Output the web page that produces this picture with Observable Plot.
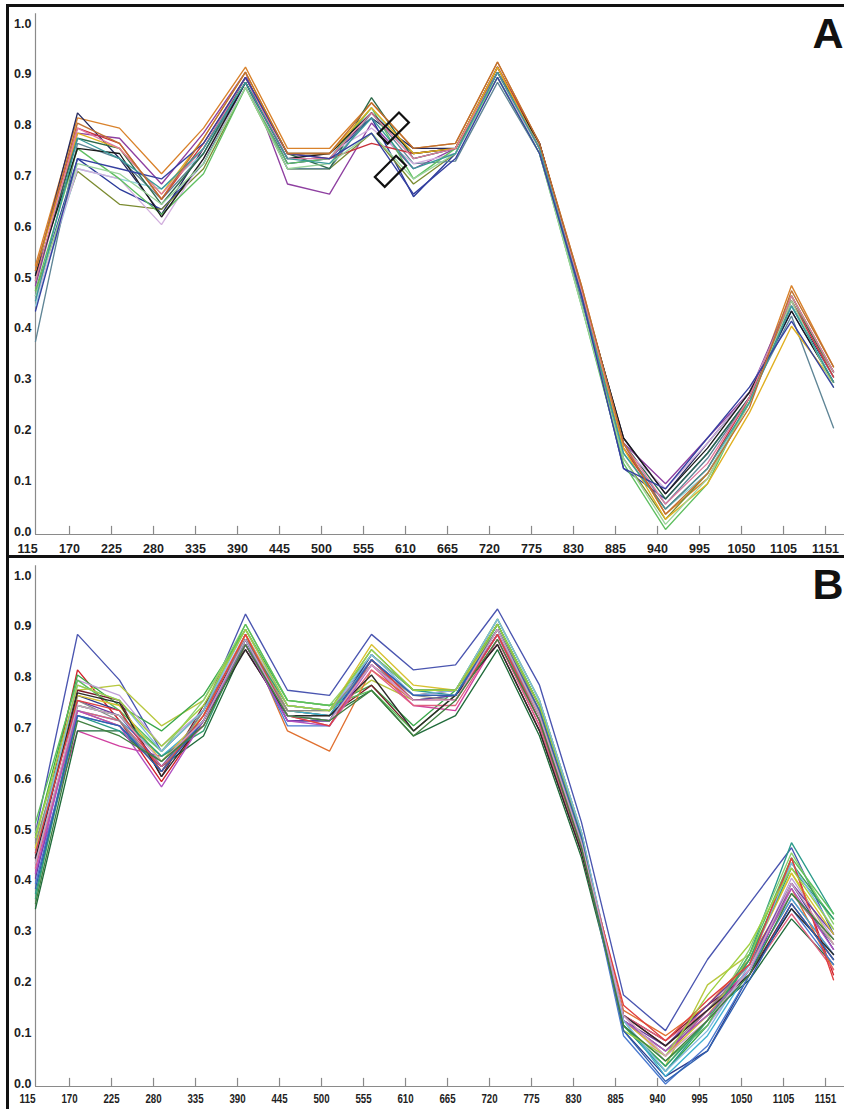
<!DOCTYPE html>
<html><head><meta charset="utf-8">
<script src="https://cdn.jsdelivr.net/npm/d3@7"></script>
<script src="https://cdn.jsdelivr.net/npm/@observablehq/plot@0.6"></script>
<style>
html,body{margin:0;padding:0;background:#fff;}
body{width:844px;height:1109px;overflow:hidden;position:relative;font-family:"Liberation Sans",Arial,sans-serif;}
#a,#b{position:absolute;left:0;}
#a{top:0;} #b{top:557px;}
.frame{position:absolute;border-left:3px solid #111;border-top:3px solid #111;z-index:5;pointer-events:none;}
#fa{left:6px;top:4px;width:900px;height:548px;}
#fb{left:6px;top:555px;width:900px;height:600px;}
svg{overflow:visible;}
</style></head>
<body>
<div id="a"></div><div id="b"></div>
<div class="frame" id="fa"></div><div class="frame" id="fb"></div>
<script>
// x categories (wavelength labels)
const wavelengths = [115,170,225,280,335,390,445,500,555,610,665,720,775,830,885,940,995,1050,1105,1151];
const yTicks = [0,0.1,0.2,0.3,0.4,0.5,0.6,0.7,0.8,0.9,1.0];

// Panel A series
const colorsA = ["#d9822b","#262a5e","#8e3fa0","#2a3a9a","#7b8b30","#8fd3dc","#5f8596","#2d6a4a","#d2b0de","#5fbf60","#c8323a","#1a1a1a","#e0b020","#9ad49a","#e07aa0","#3a9a9a","#3540a0","#c07030"];
const panelA = [
 [0.53,0.82,0.80,0.71,0.80,0.92,0.76,0.76,0.85,0.76,0.77,0.93,0.77,0.49,0.18,0.04,0.11,0.26,0.49,0.33],
 [0.51,0.83,0.74,0.63,0.76,0.90,0.75,0.75,0.82,0.76,0.76,0.92,0.77,0.48,0.19,0.08,0.18,0.28,0.45,0.31],
 [0.49,0.79,0.78,0.69,0.79,0.91,0.69,0.67,0.81,0.72,0.76,0.92,0.76,0.48,0.18,0.10,0.19,0.28,0.47,0.32],
 [0.47,0.74,0.68,0.64,0.73,0.89,0.73,0.74,0.82,0.665,0.75,0.91,0.76,0.47,0.13,0.07,0.16,0.27,0.44,0.30],
 [0.48,0.715,0.65,0.64,0.72,0.88,0.72,0.72,0.79,0.69,0.75,0.92,0.76,0.47,0.15,0.03,0.12,0.26,0.47,0.31],
 [0.45,0.72,0.70,0.68,0.75,0.89,0.74,0.74,0.84,0.74,0.76,0.91,0.75,0.47,0.16,0.05,0.12,0.26,0.45,0.30],
 [0.38,0.77,0.74,0.66,0.75,0.89,0.72,0.72,0.83,0.73,0.735,0.89,0.75,0.46,0.17,0.06,0.15,0.27,0.43,0.21],
 [0.50,0.78,0.76,0.65,0.75,0.90,0.75,0.72,0.86,0.74,0.76,0.91,0.76,0.47,0.18,0.07,0.16,0.27,0.46,0.32],
 [0.46,0.72,0.70,0.61,0.74,0.88,0.74,0.75,0.80,0.73,0.75,0.90,0.76,0.47,0.17,0.09,0.18,0.28,0.46,0.31],
 [0.48,0.76,0.70,0.63,0.71,0.88,0.73,0.74,0.84,0.70,0.76,0.90,0.75,0.45,0.14,0.01,0.10,0.27,0.47,0.32],
 [0.52,0.80,0.77,0.66,0.77,0.90,0.75,0.74,0.77,0.75,0.76,0.92,0.77,0.48,0.17,0.05,0.13,0.27,0.46,0.31],
 [0.51,0.76,0.75,0.625,0.74,0.89,0.74,0.75,0.83,0.75,0.76,0.91,0.77,0.48,0.19,0.08,0.17,0.28,0.44,0.30],
 [0.52,0.79,0.76,0.67,0.78,0.91,0.75,0.75,0.84,0.75,0.76,0.92,0.76,0.48,0.17,0.03,0.10,0.24,0.41,0.30],
 [0.47,0.73,0.71,0.65,0.73,0.88,0.72,0.73,0.79,0.70,0.75,0.90,0.75,0.45,0.15,0.02,0.11,0.26,0.46,0.29],
 [0.50,0.80,0.76,0.67,0.76,0.90,0.74,0.74,0.83,0.74,0.76,0.91,0.76,0.48,0.18,0.06,0.14,0.27,0.47,0.32],
 [0.46,0.78,0.74,0.68,0.76,0.89,0.74,0.73,0.82,0.72,0.75,0.91,0.76,0.47,0.16,0.05,0.13,0.26,0.45,0.30],
 [0.44,0.74,0.72,0.70,0.77,0.90,0.75,0.74,0.79,0.67,0.74,0.90,0.75,0.47,0.13,0.09,0.19,0.29,0.42,0.29],
 [0.52,0.81,0.77,0.66,0.78,0.91,0.75,0.75,0.85,0.76,0.77,0.93,0.77,0.49,0.18,0.04,0.12,0.25,0.48,0.33]
];
// rectangle annotations in panel A (band position, value)
const markerBand = [8.52, 8.45];
const markerValue = [0.80, 0.715];

// Panel B series
const colorsB = ["#4a55b0","#d0202a","#b8c840","#3aa84a","#d040a0","#7a1a2a","#1f6b3a","#e07030","#2a9a8a","#c0a0d8","#2a3a8a","#8ad070","#40b0d0","#6a3aa0","#5cbf5c","#4a7ad0","#e06080","#d8c030","#8a8a8a","#2a2a2a","#30a070","#b050c0","#80b8e0","#e04040","#a0d040","#3060b0","#d0a0c0","#408040"];
const panelB = [
 [0.50,0.89,0.80,0.66,0.74,0.93,0.78,0.77,0.89,0.82,0.83,0.94,0.79,0.52,0.18,0.11,0.25,0.36,0.47,0.30],
 [0.45,0.82,0.72,0.60,0.72,0.89,0.74,0.73,0.84,0.77,0.78,0.91,0.74,0.49,0.14,0.08,0.15,0.24,0.45,0.22],
 [0.47,0.78,0.79,0.71,0.76,0.90,0.75,0.74,0.80,0.76,0.77,0.90,0.75,0.49,0.12,0.04,0.20,0.26,0.42,0.28],
 [0.49,0.81,0.75,0.70,0.77,0.90,0.76,0.75,0.79,0.71,0.78,0.92,0.76,0.50,0.12,0.03,0.12,0.25,0.44,0.33],
 [0.42,0.70,0.67,0.65,0.71,0.87,0.73,0.72,0.83,0.75,0.74,0.88,0.71,0.47,0.13,0.06,0.15,0.23,0.37,0.26],
 [0.46,0.78,0.76,0.61,0.75,0.86,0.73,0.73,0.79,0.70,0.77,0.87,0.70,0.46,0.14,0.09,0.16,0.22,0.36,0.25],
 [0.35,0.70,0.70,0.63,0.69,0.87,0.73,0.73,0.78,0.69,0.73,0.86,0.69,0.45,0.13,0.07,0.14,0.21,0.33,0.24],
 [0.44,0.74,0.71,0.62,0.73,0.89,0.70,0.66,0.82,0.76,0.76,0.89,0.73,0.48,0.15,0.10,0.16,0.25,0.39,0.23],
 [0.38,0.73,0.70,0.64,0.72,0.88,0.74,0.73,0.85,0.78,0.77,0.91,0.75,0.48,0.12,0.03,0.13,0.26,0.48,0.34],
 [0.43,0.80,0.77,0.67,0.74,0.89,0.75,0.74,0.84,0.77,0.77,0.90,0.74,0.49,0.14,0.05,0.12,0.23,0.41,0.29],
 [0.45,0.77,0.74,0.62,0.74,0.88,0.72,0.72,0.85,0.78,0.78,0.90,0.73,0.48,0.11,0.02,0.07,0.22,0.40,0.27],
 [0.50,0.75,0.73,0.66,0.76,0.91,0.76,0.75,0.85,0.78,0.78,0.92,0.76,0.50,0.12,0.04,0.13,0.27,0.46,0.32],
 [0.44,0.74,0.72,0.65,0.72,0.88,0.74,0.73,0.84,0.76,0.77,0.91,0.75,0.49,0.13,0.02,0.10,0.23,0.37,0.26],
 [0.41,0.76,0.73,0.63,0.73,0.87,0.72,0.72,0.84,0.76,0.77,0.89,0.72,0.47,0.13,0.08,0.16,0.24,0.40,0.30],
 [0.52,0.80,0.74,0.66,0.74,0.91,0.76,0.75,0.78,0.70,0.77,0.91,0.75,0.49,0.12,0.05,0.12,0.26,0.45,0.34],
 [0.40,0.73,0.71,0.63,0.72,0.88,0.71,0.71,0.84,0.77,0.77,0.90,0.74,0.48,0.10,0.005,0.08,0.22,0.35,0.24],
 [0.43,0.74,0.72,0.63,0.71,0.87,0.73,0.71,0.82,0.75,0.75,0.88,0.71,0.46,0.14,0.09,0.15,0.22,0.34,0.23],
 [0.47,0.77,0.75,0.64,0.73,0.89,0.74,0.74,0.87,0.79,0.78,0.90,0.74,0.49,0.13,0.06,0.14,0.25,0.42,0.30],
 [0.48,0.76,0.72,0.62,0.74,0.88,0.74,0.74,0.83,0.77,0.76,0.89,0.73,0.47,0.13,0.07,0.15,0.24,0.38,0.28],
 [0.45,0.775,0.755,0.61,0.72,0.86,0.73,0.73,0.81,0.70,0.77,0.87,0.70,0.46,0.14,0.08,0.15,0.22,0.35,0.26],
 [0.37,0.75,0.73,0.65,0.70,0.88,0.75,0.74,0.86,0.78,0.78,0.91,0.75,0.49,0.12,0.04,0.13,0.25,0.43,0.33],
 [0.42,0.74,0.71,0.59,0.72,0.87,0.72,0.71,0.83,0.76,0.76,0.89,0.72,0.47,0.13,0.07,0.14,0.23,0.39,0.27],
 [0.46,0.79,0.76,0.66,0.74,0.90,0.75,0.74,0.85,0.77,0.78,0.92,0.76,0.50,0.13,0.03,0.11,0.24,0.44,0.31],
 [0.46,0.76,0.74,0.62,0.73,0.89,0.73,0.71,0.84,0.76,0.76,0.89,0.72,0.47,0.16,0.09,0.17,0.24,0.45,0.21],
 [0.49,0.79,0.76,0.67,0.75,0.90,0.75,0.74,0.86,0.78,0.78,0.91,0.75,0.49,0.11,0.06,0.18,0.28,0.43,0.31],
 [0.39,0.73,0.71,0.62,0.72,0.88,0.73,0.72,0.84,0.77,0.77,0.90,0.74,0.49,0.11,0.01,0.07,0.21,0.36,0.25],
 [0.44,0.75,0.73,0.64,0.72,0.88,0.73,0.72,0.83,0.76,0.76,0.90,0.73,0.48,0.14,0.06,0.13,0.23,0.40,0.28],
 [0.36,0.72,0.69,0.64,0.71,0.87,0.73,0.72,0.78,0.69,0.76,0.88,0.72,0.47,0.12,0.05,0.13,0.22,0.38,0.29]
];

const TICK_OFFSET = 0.19; // tick labels sit slightly left of the data bands

function tidy(series, colors) {
  const rows = [];
  series.forEach((vals, s) => vals.forEach((v, i) => rows.push({s, i, v, c: colors[s]})));
  return rows;
}

const rectSymbol = {
  draw(ctx) {
    const w = 15, h = 7;
    ctx.moveTo(-w, -h); ctx.lineTo(w, -h); ctx.lineTo(w, h); ctx.lineTo(-w, h); ctx.closePath();
  }
};

function panel({series, colors, letter, mTop, height, xLabelDy, xLabelSize, letterDy, markers}) {
  const axisColor = "#8a8a8a";
  const marks = [
    Plot.ruleX([0], {y1: 0, y2: 1.025, stroke: axisColor, strokeWidth: 1.2}),
    Plot.ruleY([0], {x1: 0, x2: 19.4, stroke: axisColor, strokeWidth: 1.2}),
    Plot.ruleX(wavelengths.slice(1), {x: (d) => wavelengths.indexOf(d) - TICK_OFFSET, y1: 0, y2: 0.016, stroke: axisColor, strokeWidth: 1.2}),
    Plot.line(tidy(series, colors), {x: "i", y: "v", z: "s", stroke: "c", strokeWidth: 1.35, strokeLinejoin: "miter"}),
    Plot.text(wavelengths, {x: (d, i) => i - TICK_OFFSET, y: 0, dy: xLabelDy, text: (d) => String(d), fontWeight: "bold", fontSize: xLabelSize, fill: "#1e1e1e", fontFamily: "'Liberation Sans', Arial, sans-serif"}),
    Plot.text(yTicks, {x: 0, y: (d) => d, dx: -4, dy: -3, textAnchor: "end", text: (d) => d.toFixed(1), fontWeight: "bold", fontSize: 12.5, fill: "#1e1e1e", fontFamily: "'Liberation Sans', Arial, sans-serif"}),
    Plot.text([letter], {frameAnchor: "top-right", dx: 10, dy: letterDy, textAnchor: "end", lineAnchor: "top", text: (d) => d, fontWeight: "bold", fontSize: 43, fill: "#111", fontFamily: "'Liberation Sans', Arial, sans-serif"})
  ];
  if (markers) {
    marks.push(Plot.dot(markers.band, {x: (d) => d, y: (d, i) => markers.value[i], symbol: rectSymbol, rotate: -45, stroke: "#111", strokeWidth: 2.2, fill: "none"}));
  }
  return Plot.plot({
    width: 844,
    height,
    marginLeft: 35,
    marginRight: 11,
    marginTop: mTop,
    marginBottom: height - mTop - 508,
    x: {domain: [0, 19], axis: null},
    y: {domain: [0, 1], axis: null},
    color: {type: "identity"},
    style: {background: "transparent", overflow: "visible"},
    marks
  });
}

document.getElementById("a").append(panel({
  series: panelA, colors: colorsA, letter: "A", mTop: 26, height: 556, xLabelDy: 14, xLabelSize: 12.5, letterDy: -9,
  markers: {band: markerBand, value: markerValue}
}));
const svgB = panel({
  series: panelB, colors: colorsB, letter: "B", mTop: 21, height: 552, xLabelDy: 12, xLabelSize: 13, letterDy: -10
});
document.getElementById("b").append(svgB);
// panel B's x tick labels are set in a condensed face in the reference
svgB.querySelectorAll("text").forEach((t) => {
  if (/^\d+$/.test(t.textContent.trim())) {
    t.setAttribute("textLength", (t.textContent.trim().length * 5.4).toFixed(1));
    t.setAttribute("lengthAdjust", "spacingAndGlyphs");
  }
});
</script>
</body></html>
